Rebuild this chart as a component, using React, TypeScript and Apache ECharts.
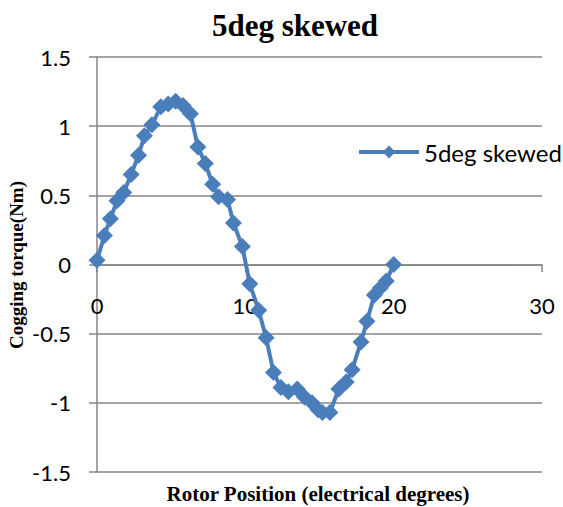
import React, { useEffect, useRef } from "react";
import * as echarts from "echarts";

const xValues = [0, 0.5, 0.9, 1.35, 1.8, 2.3, 2.8, 3.2, 3.7, 4.3, 4.8, 5.3, 5.8, 6.3, 6.8, 7.3, 7.8, 8.2, 8.8, 9.2, 9.8, 10.3, 10.9, 11.4, 11.9, 12.4, 12.9, 13.5, 14.0, 14.5, 14.9, 15.2, 15.7, 16.3, 16.8, 17.2, 17.8, 18.2, 18.7, 19.1, 19.5, 20.0];
const yValues = [0.03, 0.21, 0.33, 0.46, 0.52, 0.65, 0.79, 0.93, 1.01, 1.14, 1.16, 1.18, 1.15, 1.09, 0.85, 0.73, 0.58, 0.49, 0.47, 0.3, 0.13, -0.14, -0.33, -0.53, -0.78, -0.89, -0.92, -0.9, -0.96, -1.0, -1.05, -1.07, -1.07, -0.9, -0.85, -0.76, -0.56, -0.41, -0.22, -0.17, -0.12, 0.0];
const seriesName = "5deg skewed";
const chartTitle = "5deg skewed";
const xAxisTitle = "Rotor Position (electrical degrees)";
const yAxisTitle = "Cogging torque(Nm)";

export default function App() {
  const ref = useRef<HTMLDivElement>(null);
  useEffect(() => {
    if (!ref.current) return;
    const chart = echarts.init(ref.current, null, { renderer: "svg" });
    const tickFont = "Lato, 'Open Sans', sans-serif";
    const serif = "'Liberation Serif', 'Times New Roman', serif";
    chart.setOption({
      animation: false,
      backgroundColor: "#ffffff",
      title: {
        text: chartTitle,
        left: 290,
        top: 5,
        textAlign: "center",
        textStyle: { fontFamily: serif, fontWeight: "bold", fontSize: 31, color: "#000" },
      },
      legend: {
        left: 352,
        top: 135,
        itemWidth: 60,
        itemHeight: 16,
        itemGap: 4,
        lineStyle: { width: 4 },
        textStyle: { fontFamily: tickFont, fontSize: 24, color: "#000" },
        data: [seriesName],
      },
      grid: { left: 97, right: 21, top: 57, bottom: 35, containLabel: false, outerBoundsMode: "none" },
      xAxis: {
        type: "value",
        min: 0,
        max: 30,
        interval: 10,
        offset: -207,
        axisLine: { show: true, onZero: false, lineStyle: { color: "#868686", width: 1.5 } },
        axisTick: { show: true, length: 7, inside: false, lineStyle: { color: "#868686", width: 1.5 } },
        axisLabel: { margin: 29, fontFamily: tickFont, fontSize: 22, color: "#000" },
        splitLine: { show: false },
      },
      yAxis: {
        type: "value",
        min: -1.5,
        max: 1.5,
        interval: 0.5,
        axisLine: { show: true, onZero: false, lineStyle: { color: "#868686", width: 1.5 } },
        axisTick: { show: true, length: 8, lineStyle: { color: "#868686", width: 1.5 } },
        axisLabel: { margin: 26, fontFamily: tickFont, fontSize: 22, color: "#000" },
        splitLine: { show: true, lineStyle: { color: "#868686", width: 1.5 } },
      },
      graphic: [
        {
          type: "text",
          x: 318,
          y: 494,
          style: {
            text: xAxisTitle,
            fontFamily: serif,
            fontWeight: "bold",
            fontSize: 21,
            fill: "#000",
            align: "center",
            verticalAlign: "middle",
          },
        },
        {
          type: "text",
          x: 16,
          y: 265,
          rotation: Math.PI / 2,
          style: {
            text: yAxisTitle,
            fontFamily: serif,
            fontWeight: "bold",
            fontSize: 19,
            fill: "#000",
            align: "center",
            verticalAlign: "middle",
          },
        },
      ],
      series: [
        {
          name: seriesName,
          type: "line",
          data: xValues.map((x, i) => [x, yValues[i]]),
          symbol: "diamond",
          symbolSize: 17,
          itemStyle: { color: "#4a7ebb" },
          lineStyle: { color: "#4a7ebb", width: 4 },
        },
      ],
    });
    return () => chart.dispose();
  }, []);
  return <div ref={ref} style={{ width: 563, height: 507, position: "absolute", left: 0, top: 0 }} />;
}
